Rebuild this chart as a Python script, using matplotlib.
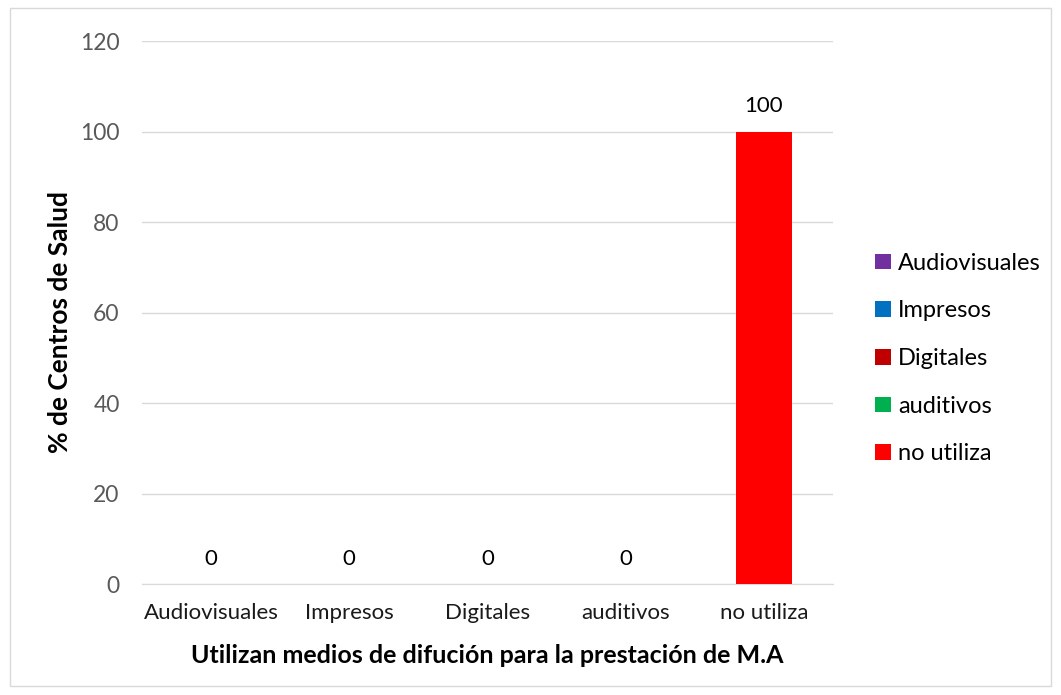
import matplotlib.pyplot as plt
from matplotlib.patches import Patch, Rectangle

plt.rcParams['font.family'] = ['Lato', 'DejaVu Sans']

categorias = ['Audiovisuales', 'Impresos', 'Digitales', 'auditivos', 'no utiliza']
valores = [0, 0, 0, 0, 100]
colores = ['#7030A0', '#0070C0', '#C00000', '#00B050', '#FF0000']
yticks = [0, 20, 40, 60, 80, 100, 120]

fig = plt.figure(figsize=(10.61, 6.95), dpi=100)
ax = fig.add_axes([0.1338, 0.1597, 0.6513, 0.7813])

for i, (cat, val, col) in enumerate(zip(categorias, valores, colores)):
    bars = ax.bar(i, val, width=0.405, color=col, label=cat, zorder=3)
    ax.bar_label(bars, labels=[str(val)], padding=11, fontsize=16, color='black')

ax.set_xlim(-0.5, len(categorias) - 0.5)
ax.set_ylim(0, 120)
ax.set_yticks(yticks)
ax.set_xticks(range(len(categorias)))
ax.set_xticklabels(categorias, fontsize=16, color='#1a1a1a')
ax.tick_params(axis='y', labelsize=16.5, labelcolor='#595959', length=0, pad=16)
ax.tick_params(axis='x', length=0, pad=14)
ax.grid(axis='y', color='#d9d9d9', linewidth=1, zorder=0)
for s in ['top', 'right', 'left']:
    ax.spines[s].set_visible(False)
ax.spines['bottom'].set_color('#d9d9d9')

ax.set_xlabel('Utilizan medios de difución para la prestación de M.A',
              fontsize=18, fontweight='bold', labelpad=15)
ax.set_ylabel('% de Centros de Salud', fontsize=19, fontweight='bold')
ax.yaxis.set_label_coords(-0.101, 0.482)

handles = [Patch(facecolor=c, edgecolor='none') for c in colores]
fig.legend(handles, categorias, loc='center left', bbox_to_anchor=(0.805, 0.484),
           frameon=False, fontsize=17, handlelength=0.65, handleheight=0.65,
           handletextpad=0.3, labelspacing=1.13)

# outer chart border
fig.patches.append(Rectangle((0.009, 0.013), 0.982, 0.975, transform=fig.transFigure,
                             fill=False, edgecolor='#d9d9d9', linewidth=1))

fig.savefig('out.png', dpi=100)
